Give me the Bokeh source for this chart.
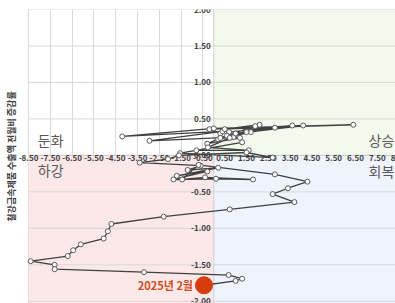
from bokeh.plotting import figure
from bokeh.models import BoxAnnotation, FixedTicker, ColumnDataSource
from bokeh.core.properties import value
from bokeh.embed import file_html
from bokeh.resources import INLINE

# ---- data (chronological; last point = 2025년 2월) ----
x_vals = [0.3, -0.2, 6.4, 0.0, -4.2, 0.4, -2.95, 0.9, 2.1, 0.5, 4.1, 1.0, 3.6, 0.7,
          2.8, 1.7, 0.2, 1.5, 0.6, 1.9, 0.3, -0.3, 1.2, 0.73, -0.27, 1.6, -0.8, 1.3,
          -1.55, 2.7, 1.5, -1.6, -2.1, -3.4, -0.6, -1.2, 0.2, -1.7, -0.3, -1.85, 0.1,
          1.8, -0.4, -1.45, -0.7, 2.8, 4.3, 3.4, 2.7, 3.7, 0.73, -2.3, -4.7, -4.86,
          -5.05, -6.1, -6.45, -6.7, -8.4, -7.3, -7.3, -3.2, 0.68, 1.3, 1.0, -0.45]
y_vals = [0.30, 0.36, 0.42, 0.37, 0.26, 0.33, 0.20, 0.25, 0.42, 0.36, 0.41, 0.30, 0.41, 0.32,
          0.38, 0.32, 0.22, 0.32, 0.27, 0.40, 0.24, 0.16, 0.24, 0.24, 0.11, 0.07, 0.07, 0.18,
          0.03, -0.03, 0.04, 0.00, -0.05, -0.10, -0.14, -0.20, -0.17, -0.28, -0.22, -0.33, -0.32,
          -0.33, -0.30, -0.33, -0.13, -0.26, -0.36, -0.45, -0.53, -0.64, -0.74, -0.84, -0.94, -1.04,
          -1.14, -1.22, -1.30, -1.38, -1.45, -1.50, -1.56, -1.60, -1.64, -1.69, -1.72, -1.78]
last_label = ["2025년 2월"]

x_ticks = [-8.5, -7.5, -6.5, -5.5, -4.5, -3.5, -2.5, -1.5, -0.5, 0.5, 1.5, 2.5, 3.5, 4.5, 5.5, 6.5, 7.5, 8.5]
x_tick_labels = ["-8.50", "-7.50", "-6.50", "-5.50", "-4.50", "-3.50", "-2.50", "-1.50", "-0.50",
                 "0.50", "1.50", "2.50", "3.50", "4.50", "5.50", "6.50", "7.50", "8.50"]
y_ticks = [2.0, 1.5, 1.0, 0.5, 0.0, -0.5, -1.0, -1.5, -2.0]
y_tick_labels = ["2.00", "1.50", "1.00", "0.50", "0.00", "-0.50", "-1.00", "-1.50", "-2.00"]

quad_left = ["둔화", "하강"]
quad_right = ["상승", "회복"]
y_title = "철강금속제품 수출액 전월비 증감률"

KFONT = "Noto Sans CJK KR"
X0, X1 = -8.959, 8.335
Y0, Y1 = -2.03, 2.0

p = figure(width=395, height=303, x_range=(X0, X1), y_range=(Y0, Y1),
           output_backend="svg", toolbar_location=None,
           min_border_left=18, min_border_right=0, min_border_top=9, min_border_bottom=0)
p.outline_line_color = None
p.background_fill_color = "white"
p.xaxis.visible = False

# left axis only carries the vertical title
p.yaxis.ticker = FixedTicker(ticks=[])
p.yaxis.axis_line_color = None
p.yaxis.major_tick_line_color = None
p.yaxis.minor_tick_line_color = None
p.yaxis.major_tick_out = 0
p.yaxis.major_label_standoff = 0
p.yaxis.axis_label = y_title
p.yaxis.axis_label_standoff = 1
p.yaxis.axis_label_text_font = KFONT
p.yaxis.axis_label_text_font_size = "9px"
p.yaxis.axis_label_text_font_style = "bold"
p.yaxis.axis_label_text_color = "#404040"

# quadrant backgrounds (plot area starts at the first x tick)
xmin = x_ticks[0]
p.add_layout(BoxAnnotation(left=0, bottom=0, fill_color="#f3f9ec", fill_alpha=1, line_color=None, level="underlay"))
p.add_layout(BoxAnnotation(left=xmin, right=0, top=0, fill_color="#fde8e9", fill_alpha=1, line_color=None, level="underlay"))
p.add_layout(BoxAnnotation(left=0, top=0, fill_color="#eef3fc", fill_alpha=1, line_color=None, level="underlay"))

# grid
p.xgrid.ticker = FixedTicker(ticks=x_ticks)
p.xgrid.grid_line_color = "#d9d9d9"
p.ygrid.visible = False
n = len(y_ticks)
p.segment(x0=[xmin] * n, y0=y_ticks, x1=[X1] * n, y1=y_ticks, line_color="#d9d9d9", line_width=1)
p.segment(x0=[0], y0=[Y0], x1=[0], y1=[Y1], line_color="#cfcfcf", line_width=1)
p.segment(x0=[xmin], y0=[0], x1=[X1], y1=[0], line_color="#cfcfcf", line_width=1)

# axis tick labels drawn at the crossing axes
p.text(x=x_ticks, y=[0] * len(x_ticks), text=x_tick_labels, text_font=value(KFONT),
       text_font_size="8px", text_font_style="bold", text_color="#404040",
       text_align="center", text_baseline="middle", y_offset=3)
p.text(x=[0] * len(y_ticks), y=y_ticks, text=y_tick_labels, text_font=value(KFONT),
       text_font_size="8px", text_font_style="bold", text_color="#404040",
       text_align="right", text_baseline="middle", x_offset=-3)

# quadrant labels
p.text(x=[-7.48, -7.48], y=[0.205, -0.205], text=quad_left,
       text_font=value(KFONT), text_font_size="14px", text_color="#595959",
       text_align="center", text_baseline="middle")
p.text(x=[8.28, 8.28], y=[0.205, -0.22], text=quad_right,
       text_font=value(KFONT), text_font_size="14px", text_color="#595959",
       text_align="right", text_baseline="middle")

# series
src = ColumnDataSource(dict(x=x_vals, y=y_vals))
p.line("x", "y", source=src, line_color="#404040", line_width=1.3)
p.scatter("x", "y", source=src, size=5, fill_color="white", line_color="#595959", line_width=1)

# last point highlight
p.scatter(x=x_vals[-1:], y=y_vals[-1:], size=17, fill_color="#d83b0c", line_color="#d83b0c")
p.text(x=x_vals[-1:], y=y_vals[-1:], text=last_label, text_font=value(KFONT),
       text_font_size="11px", text_font_style="bold", text_color="#d24a1c",
       text_align="right", text_baseline="middle", x_offset=-11)

open("out.html", "w").write(file_html(p, INLINE))
